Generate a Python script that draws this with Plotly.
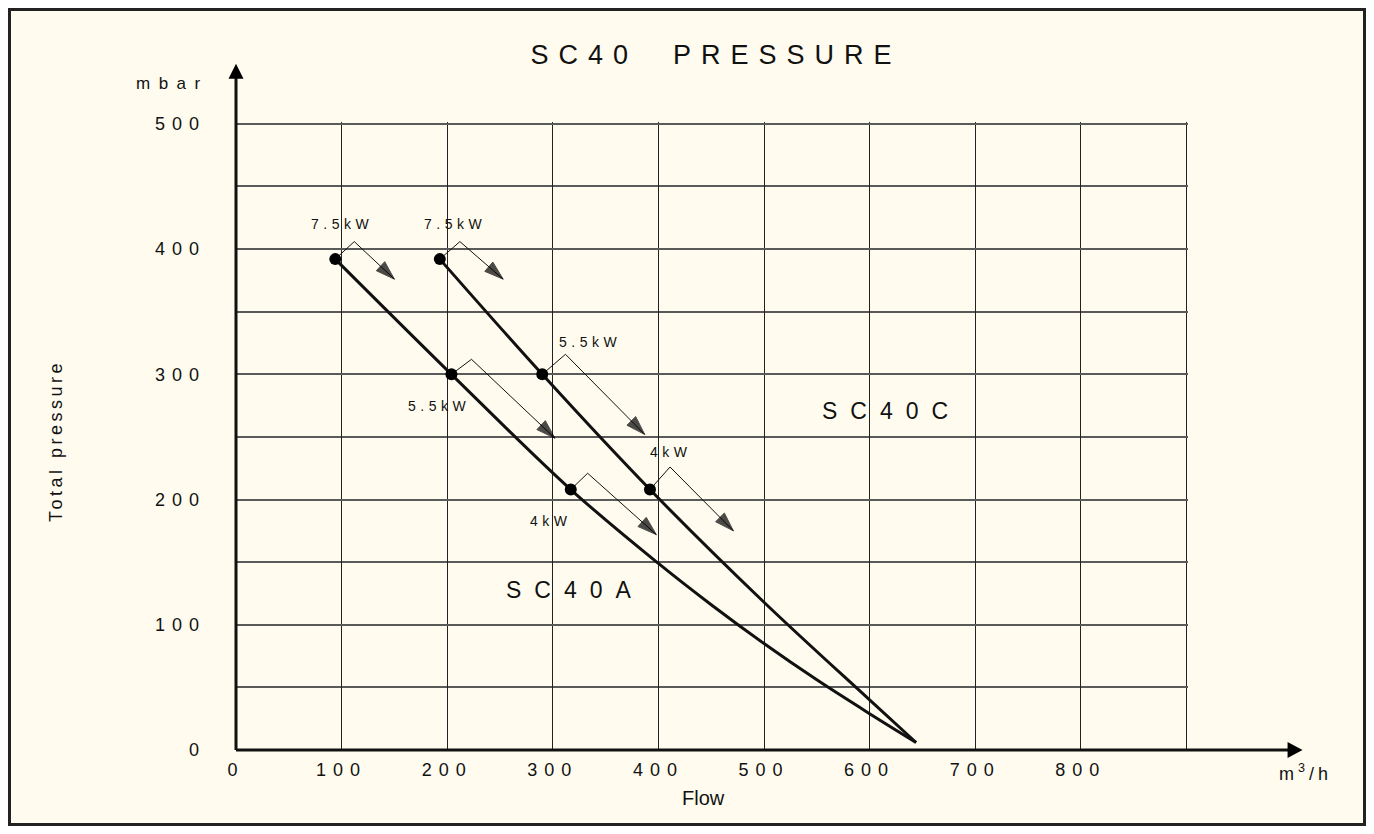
import plotly.graph_objects as go

# ---------------- data ----------------
FLOW_A = [94, 204, 317, 400, 450, 500, 550, 600, 644]
PRES_A = [392, 300, 208, 149, 116, 85, 56, 29, 6]
FLOW_C = [193, 290, 392, 500, 600, 644]
PRES_C = [392, 300, 208, 118, 40, 6]

DOT_FLOW_A = [94, 204, 317]
DOT_PRES_A = [392, 300, 208]
DOT_FLOW_C = [193, 290, 392]
DOT_PRES_C = [392, 300, 208]
POWER = ["7.5kW", "5.5kW", "4kW"]

X_TICKS = [0, 100, 200, 300, 400, 500, 600, 700, 800]
Y_TICKS = [0, 100, 200, 300, 400, 500]
X_MAX, Y_MAX = 901.5, 501.5      # axis ranges (grid reaches 900 / 500)
X_ARROW, Y_ARROW = 1010, 548     # where the axis arrows point

# ---------------- annotation geometry (offsets from each rated point) ----------------
PEAK_A = [(18, 14), (19, 12), (16, 13)]
TIP_A = [(56, -16), (98, -51), (81, -36)]
LAB_A = [(6, 28), (-12, -25), (-19, -25)]
PEAK_C = [(19, 14), (22, 16), (19, 18)]
TIP_C = [(60, -16), (97, -48), (79, -33)]
LAB_C = [(14, 28), (45, 26), (20, 30)]

# ---------------- layout constants ----------------
OFF = 8                     # page margin of the html body
W, H = 1358, 818
L, T = 228, 114
PW, PH = 952, 628
R, B = W - L - PW, H - T - PH
FONT = "Liberation Sans, Arial, sans-serif"
BG = "#fffcef"
INK = "#111111"


def px(x):
    return (x - OFF - L) / PW


def py(y):
    return 1 - (y - OFF - T) / PH


def spaced(text, ls):
    return f'<span style="letter-spacing:{ls}px">{text}</span>'


fig = go.Figure()

# curves
for fx, fy in ((FLOW_A, PRES_A), (FLOW_C, PRES_C)):
    fig.add_trace(go.Scatter(x=fx, y=fy, mode="lines",
                             line=dict(color=INK, width=3, shape="spline", smoothing=1.0),
                             hoverinfo="skip", showlegend=False))

# brackets with arrows
for dfx, dfy, peaks, tips in ((DOT_FLOW_A, DOT_PRES_A, PEAK_A, TIP_A),
                              (DOT_FLOW_C, DOT_PRES_C, PEAK_C, TIP_C)):
    for x0, y0, pk, tp in zip(dfx, dfy, peaks, tips):
        fig.add_trace(go.Scatter(
            x=[x0, x0 + pk[0], x0 + tp[0]], y=[y0, y0 + pk[1], y0 + tp[1]],
            mode="lines+markers",
            line=dict(color=INK, width=1),
            marker=dict(symbol=["circle", "circle", "arrow"], size=[0, 0, 20],
                        color="#000000", angleref="previous",
                        line=dict(width=[0, 0, 1], color="#000000")),
            hoverinfo="skip", showlegend=False))

# rated points
for dfx, dfy in ((DOT_FLOW_A, DOT_PRES_A), (DOT_FLOW_C, DOT_PRES_C)):
    fig.add_trace(go.Scatter(x=dfx, y=dfy, mode="markers",
                             marker=dict(color="#000000", size=12),
                             hoverinfo="skip", showlegend=False))

ann = []
# power labels
for dfx, dfy, labs in ((DOT_FLOW_A, DOT_PRES_A, LAB_A), (DOT_FLOW_C, DOT_PRES_C, LAB_C)):
    for x0, y0, lb, p in zip(dfx, dfy, labs, POWER):
        ann.append(dict(x=x0 + lb[0], y=y0 + lb[1], xref="x", yref="y",
                        text=spaced(p, 4.5), showarrow=False,
                        xanchor="center", yanchor="middle",
                        font=dict(family=FONT, size=14, color=INK)))

# series names
ann.append(dict(x=321, y=128, xref="x", yref="y", text=spaced("SC40A", 13), showarrow=False,
                xanchor="center", yanchor="middle",
                font=dict(family=FONT, size=23, color=INK)))
ann.append(dict(x=621, y=271, xref="x", yref="y", text=spaced("SC40C", 13), showarrow=False,
                xanchor="center", yanchor="middle",
                font=dict(family=FONT, size=23, color=INK)))

# unit and axis labels
ann.append(dict(x=px(172), y=py(83), xref="paper", yref="paper", text=spaced("mbar", 8.5),
                xanchor="center", yanchor="middle",
                showarrow=False, font=dict(family=FONT, size=17, color=INK)))
ann.append(dict(x=px(1305), y=py(772), xref="paper", yref="paper",
                text=spaced("m<sup>3</sup>/h", 4), xanchor="center", yanchor="middle",
                showarrow=False, font=dict(family=FONT, size=18, color=INK)))
ann.append(dict(x=px(703), y=py(798), xref="paper", yref="paper", text="Flow",
                xanchor="center", yanchor="middle",
                showarrow=False, font=dict(family=FONT, size=20, color=INK)))
ann.append(dict(x=px(56), y=py(441), xref="paper", yref="paper",
                text=spaced("Total pressure", 3.5), textangle=-90,
                xanchor="center", yanchor="middle",
                showarrow=False, font=dict(family=FONT, size=18, color=INK)))

# axis arrows (paper units derived from the axis scale)
HEAD = 15
y_tip = Y_ARROW / Y_MAX
y_base = y_tip - HEAD / PH
x_tip = X_ARROW / X_MAX
x_base = x_tip - HEAD / PW
hw = 7.5 / PW
hh = 8 / PH

shapes = [
    # outer frame
    dict(type="rect", xref="paper", yref="paper",
         x0=px(OFF + 1.5), x1=px(OFF + W - 1.5), y0=py(OFF + H - 1.5), y1=py(OFF + 1.5),
         line=dict(color="#222222", width=3), fillcolor="rgba(0,0,0,0)", layer="above"),
    # axis lines
    dict(type="line", xref="paper", yref="paper", x0=0, x1=0, y0=0, y1=y_base + 2 / PH,
         line=dict(color=INK, width=3), layer="above"),
    dict(type="line", xref="paper", yref="paper", x0=0, x1=x_base + 2 / PW, y0=0, y1=0,
         line=dict(color=INK, width=3), layer="above"),
    # arrow heads
    dict(type="path", xref="paper", yref="paper",
         path=f"M {-hw},{y_base} L {hw},{y_base} L 0,{y_tip} Z",
         fillcolor="#000000", line=dict(width=0), layer="above"),
    dict(type="path", xref="paper", yref="paper",
         path=f"M {x_base},{-hh} L {x_base},{hh} L {x_tip},0 Z",
         fillcolor="#000000", line=dict(width=0), layer="above"),
]

fig.update_layout(
    width=W, height=H,
    margin=dict(l=L, r=R, t=T, b=B, autoexpand=False),
    paper_bgcolor=BG, plot_bgcolor=BG,
    title=dict(text=spaced("SC40\u00a0\u00a0PRESSURE", 10), x=px(716), xref="paper",
               xanchor="center", y=1 - (55 - OFF) / H, yref="container", yanchor="middle",
               font=dict(family=FONT, size=27, color=INK)),
    annotations=ann, shapes=shapes,
    hovermode=False,
    xaxis=dict(range=[0, X_MAX], tickvals=X_TICKS,
               ticktext=[spaced(str(v), 7) for v in X_TICKS],
               showgrid=True, gridcolor="#222222", gridwidth=1,
               minor=dict(dtick=100, tick0=0, showgrid=True, gridcolor="#222222", gridwidth=1, ticks=""),
               showline=False, zeroline=False,
               ticks="", ticklabelstandoff=7,
               tickfont=dict(family=FONT, size=18, color=INK), fixedrange=True),
    yaxis=dict(range=[0, Y_MAX], tickvals=Y_TICKS,
               ticktext=[spaced(str(v), 7) for v in Y_TICKS],
               showgrid=True, gridcolor="#5a5a5a", gridwidth=1.5,
               minor=dict(dtick=50, tick0=0, showgrid=True, gridcolor="#5a5a5a", gridwidth=1.5, ticks=""),
               showline=False, zeroline=False,
               ticks="", ticklabelstandoff=29,
               tickfont=dict(family=FONT, size=18, color=INK), fixedrange=True),
)

fig.write_html("out.html", config={"displayModeBar": False})
